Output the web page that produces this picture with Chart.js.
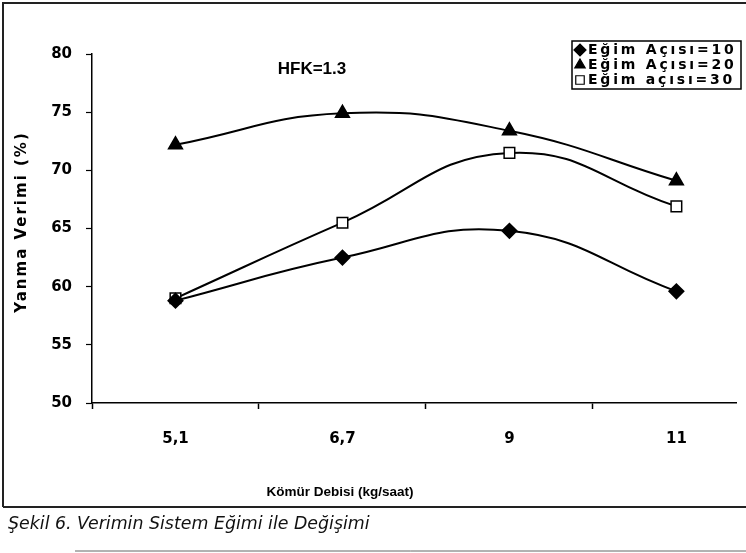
<!DOCTYPE html>
<html>
<head>
<meta charset="utf-8">
<script src="https://cdn.jsdelivr.net/npm/chart.js@4.4.1/dist/chart.umd.min.js"></script>
<style>
body { margin:0; background:#fff; }
#wrap { position:relative; width:746px; height:553px; }
#cap { position:absolute; left:8px; top:513px; font-family:"DejaVu Sans", sans-serif; font-style:italic; font-size:17.4px; color:#111; }
</style>
</head>
<body>
<div id="wrap">
<canvas id="c6" width="746" height="553"></canvas>
<div id="cap">Şekil 6. Verimin Sistem Eğimi ile Değişimi</div>
</div>
<script>
// kömür debisi (kg/saat)
var debi = ['5,1', '6,7', '9', '11'];
// yanma verimi (%)
var egim10 = [58.8, 62.5, 64.8, 59.6];
var egim20 = [72.2, 74.9, 73.4, 69.1];
var egim30 = [59.0, 65.5, 71.5, 66.9];
var yTicks = [50, 55, 60, 65, 70, 75, 80];

var seriesNames = ['Eğim Açısı=10', 'Eğim Açısı=20', 'Eğim açısı=30'];
var yTitle = 'Yanma Verimi (%)';
var xTitle = 'Kömür Debisi (kg/saat)';
var chartNote = 'HFK=1.3';

function pts(arr) {
  var out = [];
  for (var i = 0; i < arr.length; i++) out.push({x: i, y: arr[i]});
  return out;
}

var boldFont = '"Liberation Sans", Arial, sans-serif';
var wideFont = '"DejaVu Sans", sans-serif';

// text + legend box + figure frame
var extras = {
  id: 'extras',
  afterDraw: function(chart) {
    var ctx = chart.ctx;
    ctx.save();
    ctx.fillStyle = '#000';
    ctx.textBaseline = 'middle';

    ctx.font = 'bold 17px ' + boldFont;
    ctx.textAlign = 'center';
    ctx.fillText(chartNote, 312, 69);

    ctx.font = 'bold 13.5px ' + boldFont;
    ctx.fillText(xTitle, 340, 492);

    // y title
    ctx.save();
    ctx.translate(22, 222);
    ctx.rotate(-Math.PI / 2);
    ctx.font = 'bold 15px ' + wideFont;
    ctx.letterSpacing = '2px';
    ctx.fillText(yTitle, 0, 0);
    ctx.restore();

    // legend
    ctx.lineWidth = 1.5;
    ctx.strokeStyle = '#000';
    ctx.strokeRect(572, 41, 169, 48);
    ctx.textAlign = 'left';
    ctx.font = 'bold 14px ' + wideFont;
    ctx.letterSpacing = '2.8px';
    var rows = [50, 65, 80];
    chart.data.datasets.forEach(function(ds, i) {
      ctx.fillStyle = ds.pointBackgroundColor;
      ctx.strokeStyle = '#000';
      ctx.lineWidth = 1.2;
      Chart.helpers.drawPoint(ctx, {pointStyle: ds.pointStyle, radius: 6, rotation: 0, borderWidth: 1.2}, 580, rows[i]);
      ctx.fillStyle = '#000';
      ctx.fillText(ds.label, 588, rows[i]);
    });
    ctx.letterSpacing = '0px';

    // frame of the figure
    ctx.lineWidth = 2;
    ctx.strokeStyle = '#222';
    ctx.beginPath();
    ctx.moveTo(3, 507); ctx.lineTo(3, 3); ctx.lineTo(746, 3);
    ctx.moveTo(3, 507); ctx.lineTo(746, 507);
    ctx.stroke();
    ctx.lineWidth = 1;
    ctx.strokeStyle = '#666';
    ctx.beginPath();
    ctx.moveTo(75, 551); ctx.lineTo(746, 551);
    ctx.stroke();
    ctx.restore();
  }
};

var ctx = document.getElementById('c6').getContext('2d');
var chart6 = new Chart(ctx, {
  type: 'line',
  data: {
    datasets: [{
      label: seriesNames[0],
      data: pts(egim10),
      borderColor: '#000',
      borderWidth: 2,
      pointStyle: 'rectRot',
      pointRadius: 7,
      pointBackgroundColor: '#000',
      pointBorderColor: '#000',
      tension: 0.45
    }, {
      label: seriesNames[1],
      data: pts(egim20),
      borderColor: '#000',
      borderWidth: 2,
      pointStyle: 'triangle',
      pointRadius: 7.5,
      pointBackgroundColor: '#000',
      pointBorderColor: '#000',
      tension: 0.45
    }, {
      label: seriesNames[2],
      data: pts(egim30),
      borderColor: '#000',
      borderWidth: 2,
      pointStyle: 'rect',
      pointRadius: 7.5,
      pointBorderWidth: 1.5,
      pointBackgroundColor: '#fff',
      pointBorderColor: '#000',
      tension: 0.45
    }]
  },
  options: {
    responsive: false,
    animation: false,
    layout: { padding: { left: 0, top: 54, right: 9, bottom: 0 } },
    plugins: { legend: { display: false }, tooltip: { enabled: false } },
    scales: {
      x: {
        type: 'linear',
        min: -0.5,
        max: 3.36,
        afterFit: function(s) { s.height = 150; },
        afterBuildTicks: function(s) {
          s.ticks = [-0.5, 0, 0.5, 1, 1.5, 2, 2.5, 3].map(function(v) { return {value: v}; });
        },
        border: { color: '#000', width: 1.5 },
        grid: {
          drawOnChartArea: false,
          tickLength: 6,
          tickWidth: 1.5,
          tickColor: function(c) { return c.tick && c.tick.value % 1 === 0 ? 'rgba(0,0,0,0)' : '#000'; }
        },
        ticks: {
          autoSkip: false,
          maxRotation: 0,
          padding: 21,
          color: '#000',
          font: { family: wideFont, size: 15, weight: 'bold' },
          callback: function(v) { return v % 1 === 0 ? debi[v] : ''; }
        }
      },
      y: {
        min: 50,
        max: 80,
        afterFit: function(s) { s.width = 92; },
        afterBuildTicks: function(s) {
          s.ticks = yTicks.map(function(v) { return {value: v}; });
        },
        border: { color: '#000', width: 1.5 },
        grid: { drawOnChartArea: false, tickLength: 6, tickColor: '#000', tickWidth: 1.2 },
        ticks: {
          padding: 14,
          color: '#000',
          font: { family: wideFont, size: 15, weight: 'bold' }
        }
      }
    }
  },
  plugins: [extras]
});
</script>
</body>
</html>
